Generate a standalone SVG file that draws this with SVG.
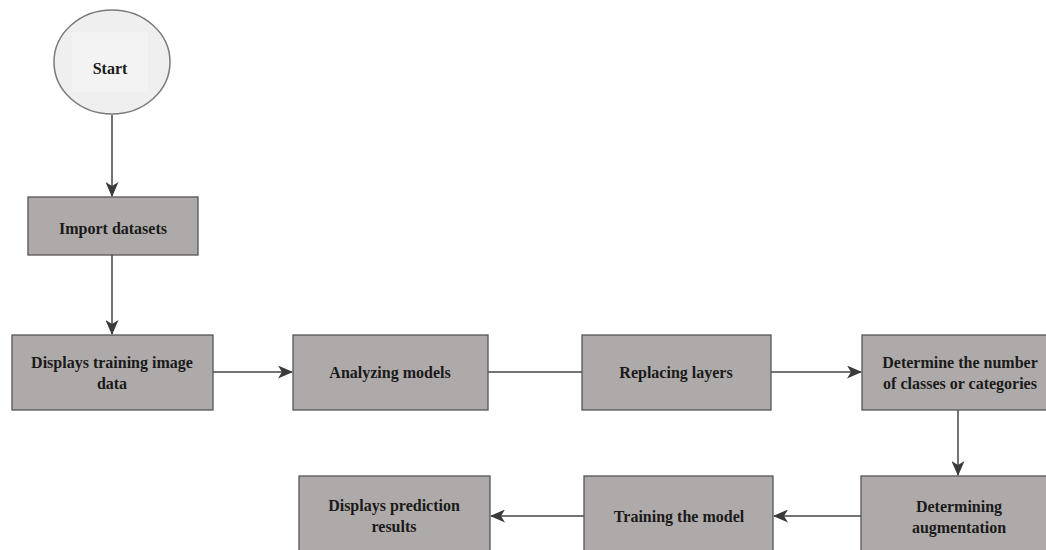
<svg xmlns="http://www.w3.org/2000/svg" width="1046" height="550" viewBox="0 0 1046 550">
<style>
.box{fill:#aeaaa9;stroke:#555;stroke-width:1.3}
.t{font-family:"Liberation Serif","Times New Roman",serif;font-weight:bold;font-size:16px;fill:#1a1a1a;text-anchor:middle}
.c{stroke:#444;stroke-width:1.5;fill:none}
</style>
<defs>
<marker id="ah" markerWidth="15" markerHeight="13" refX="14" refY="6.5" orient="auto" markerUnits="userSpaceOnUse">
<path d="M0,0 L15,6.5 L0,13 L4,6.5 Z" fill="#3a3a3a"/>
</marker>
</defs>
<rect width="1046" height="550" fill="#ffffff"/>
<g id="connectors">
<line class="c" x1="112" y1="115" x2="112" y2="196" marker-end="url(#ah)"/>
<line class="c" x1="112" y1="255" x2="112" y2="334" marker-end="url(#ah)"/>
<line class="c" x1="213" y1="372" x2="292" y2="372" marker-end="url(#ah)"/>
<line class="c" x1="488" y1="372" x2="582" y2="372"/>
<line class="c" x1="771" y1="372" x2="861" y2="372" marker-end="url(#ah)"/>
<line class="c" x1="958" y1="410" x2="958" y2="475" marker-end="url(#ah)"/>
<line class="c" x1="861" y1="516" x2="774" y2="516" marker-end="url(#ah)"/>
<line class="c" x1="584" y1="516" x2="491" y2="516" marker-end="url(#ah)"/>
</g>
<g id="start">
<ellipse cx="112" cy="62" rx="58" ry="52" fill="#efefef" stroke="#7a7a7a" stroke-width="1.5"/>
<rect x="72" y="32" width="76" height="60" fill="#f3f3f3"/>
<text class="t" x="110" y="74">Start</text>
</g>
<g id="import">
<rect class="box" x="28" y="197" width="170" height="58"/>
<text class="t" x="113" y="234">Import datasets</text>
</g>
<g id="displays-training">
<rect class="box" x="12" y="335" width="201" height="75"/>
<text class="t" x="112" y="368">Displays training image</text>
<text class="t" x="112" y="389">data</text>
</g>
<g id="analyzing">
<rect class="box" x="293" y="335" width="195" height="75"/>
<text class="t" x="390" y="378">Analyzing models</text>
</g>
<g id="replacing">
<rect class="box" x="582" y="335" width="189" height="75"/>
<text class="t" x="676" y="378">Replacing layers</text>
</g>
<g id="determine-classes">
<rect class="box" x="862" y="335" width="196" height="75"/>
<text class="t" x="960" y="368">Determine the number</text>
<text class="t" x="960" y="389">of classes or categories</text>
</g>
<g id="augmentation">
<rect class="box" x="861" y="476" width="196" height="80"/>
<text class="t" x="959" y="512">Determining</text>
<text class="t" x="959" y="533">augmentation</text>
</g>
<g id="training">
<rect class="box" x="584" y="476" width="189" height="80"/>
<text class="t" x="679" y="522">Training the model</text>
</g>
<g id="prediction">
<rect class="box" x="299" y="476" width="191" height="80"/>
<text class="t" x="394" y="511">Displays prediction</text>
<text class="t" x="394" y="532">results</text>
</g>
</svg>
